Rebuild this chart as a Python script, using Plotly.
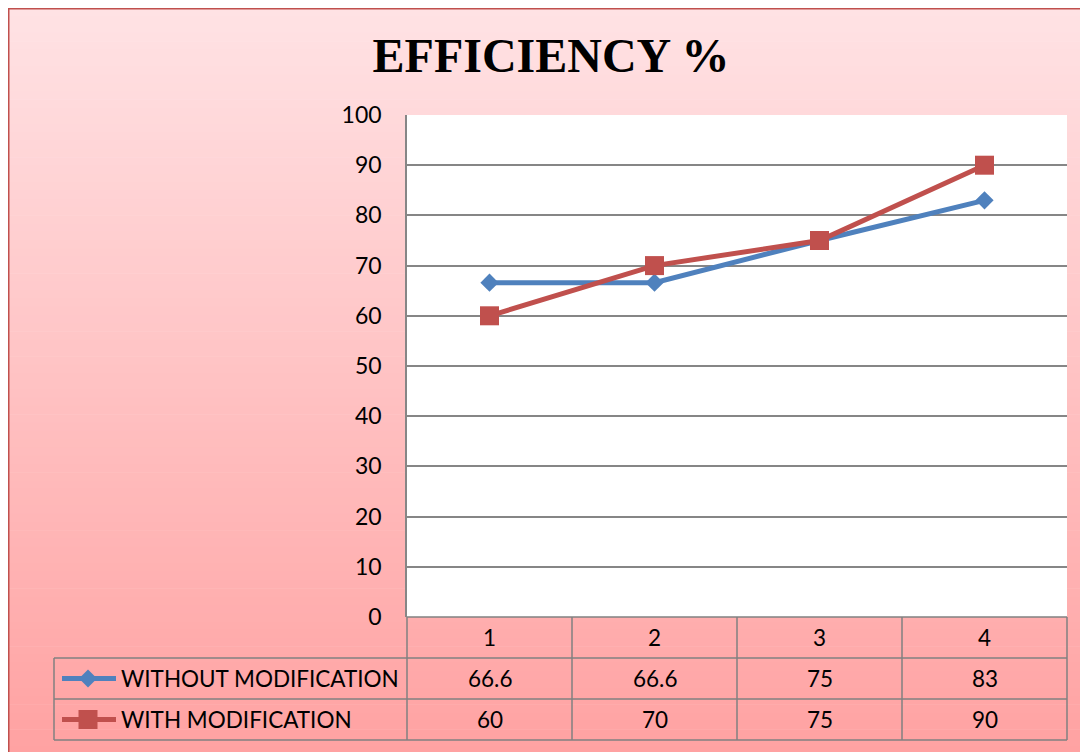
import plotly.graph_objects as go

# ---- data ----
categories = [1, 2, 3, 4]
series_names = ["WITHOUT MODIFICATION", "WITH MODIFICATION"]
without_mod = [66.6, 66.6, 75, 83]
with_mod = [60, 70, 75, 90]
y_ticks = [0, 10, 20, 30, 40, 50, 60, 70, 80, 90, 100]
title_text = "EFFICIENCY %"

BLUE = "#4f81bd"
RED = "#c0504d"
GRID = "#868686"
OFF = 8                      # page body margin
WIN_W, WIN_H = 1088, 752
W, H = WIN_W - OFF, WIN_H - OFF
PL, PR, PT, PB = 407, 1067, 115, 617  # plot area in window px

def fx(px):
    return (px - PL) / (PR - PL)

def fy(py):
    return (PB - py) / (PB - PT)

fig = go.Figure()
fig.add_trace(go.Scatter(x=categories, y=without_mod, mode="lines+markers",
                         name=series_names[0],
                         line=dict(color=BLUE, width=5),
                         marker=dict(symbol="diamond", size=14, color=BLUE)))
fig.add_trace(go.Scatter(x=categories, y=with_mod, mode="lines+markers",
                         name=series_names[1],
                         line=dict(color=RED, width=5),
                         marker=dict(symbol="square", size=19, color=RED)))

shapes = []
# gradient background
N = 90
top_c = (255, 226, 228)
bot_c = (255, 162, 162)
y0, y1 = OFF, WIN_H + 2
for i in range(N):
    t = i / (N - 1)
    c = tuple(round(top_c[k] + (bot_c[k] - top_c[k]) * t) for k in range(3))
    ya = y0 + (y1 - y0) * i / N
    yb = y0 + (y1 - y0) * (i + 1) / N + 0.6
    shapes.append(dict(type="rect", xref="paper", yref="paper", layer="below",
                       x0=fx(OFF), x1=fx(WIN_W + 5), y0=fy(ya), y1=fy(yb),
                       fillcolor="rgb(%d,%d,%d)" % c, line=dict(width=0)))
# white plot area
shapes.append(dict(type="rect", xref="paper", yref="paper", layer="below",
                   x0=0, x1=1, y0=0, y1=1, fillcolor="white", line=dict(width=0)))
# chart border
shapes.append(dict(type="line", xref="paper", yref="paper", x0=fx(OFF), x1=fx(WIN_W + 5),
                   y0=fy(OFF + 0.5), y1=fy(OFF + 0.5), line=dict(color="#c0504d", width=2)))
shapes.append(dict(type="line", xref="paper", yref="paper", x0=fx(OFF + 0.5), x1=fx(OFF + 0.5),
                   y0=fy(OFF), y1=fy(WIN_H + 5), line=dict(color="#c0504d", width=2)))

# data table grid
tcol = [407, 572, 737, 902, 1067]
trow = [617, 658, 699, 740]
LBL_X = 54
tl = dict(color="#808080", width=1.5)
shapes.append(dict(type="line", xref="paper", yref="paper", x0=fx(PL), x1=fx(PR),
                   y0=fy(trow[0]), y1=fy(trow[0]), line=tl))
for r in trow[1:]:
    shapes.append(dict(type="line", xref="paper", yref="paper", x0=fx(LBL_X), x1=fx(PR),
                       y0=fy(r), y1=fy(r), line=tl))
for c in tcol:
    shapes.append(dict(type="line", xref="paper", yref="paper", x0=fx(c), x1=fx(c),
                       y0=fy(trow[0]), y1=fy(trow[-1]), line=tl))
shapes.append(dict(type="line", xref="paper", yref="paper", x0=fx(LBL_X), x1=fx(LBL_X),
                   y0=fy(trow[1]), y1=fy(trow[-1]), line=tl))

# legend keys in table
key_colors = [BLUE, RED]
for i, col in enumerate(key_colors):
    cy = (trow[i + 1] + trow[i + 2]) / 2
    shapes.append(dict(type="line", xref="paper", yref="paper", x0=fx(62), x1=fx(116),
                       y0=fy(cy), y1=fy(cy), line=dict(color=col, width=5)))
    if i == 0:
        d = 9
        path = "M %f %f L %f %f L %f %f L %f %f Z" % (
            fx(88 - d), fy(cy), fx(88), fy(cy - d), fx(88 + d), fy(cy), fx(88), fy(cy + d))
        shapes.append(dict(type="path", xref="paper", yref="paper", path=path,
                           fillcolor=col, line=dict(width=0)))
    else:
        d = 9.5
        shapes.append(dict(type="rect", xref="paper", yref="paper",
                           x0=fx(88 - d), x1=fx(88 + d), y0=fy(cy - d), y1=fy(cy + d),
                           fillcolor=col, line=dict(width=0)))

FONT = "Lato"
FS = 22.5
annotations = []
centers = [(tcol[i] + tcol[i + 1]) / 2 for i in range(4)]
for i, cat in enumerate(categories):
    annotations.append(dict(x=fx(centers[i]), y=fy((trow[0] + trow[1]) / 2), xref="paper", yref="paper",
                            text=str(cat), showarrow=False, xanchor="center", yanchor="middle",
                            font=dict(family=FONT, size=FS, color="black")))
for r, vals in enumerate([without_mod, with_mod]):
    cy = (trow[r + 1] + trow[r + 2]) / 2
    annotations.append(dict(x=fx(119), y=fy(cy), xref="paper", yref="paper",
                            text=series_names[r], showarrow=False, xanchor="left", yanchor="middle",
                            font=dict(family=FONT, size=FS, color="black")))
    for i, v in enumerate(vals):
        annotations.append(dict(x=fx(centers[i]), y=fy(cy), xref="paper", yref="paper",
                                text=f"{v:g}", showarrow=False, xanchor="center", yanchor="middle",
                                font=dict(family=FONT, size=FS, color="black")))

fig.update_layout(
    width=W, height=H,
    margin=dict(l=PL - OFF, r=WIN_W - PR, t=PT - OFF, b=WIN_H - PB, pad=0),
    paper_bgcolor="white",
    plot_bgcolor="rgba(0,0,0,0)",
    showlegend=False,
    title=dict(text="<b>" + title_text + "</b>", xref="container", yref="container",
               x=(551 - OFF) / W, y=1 - (55 - OFF) / H, xanchor="center", yanchor="middle",
               font=dict(family="Liberation Serif", size=48, color="black")),
    shapes=shapes,
    annotations=annotations,
    xaxis=dict(range=[0.5, 4.5], showticklabels=False, showgrid=False, zeroline=False,
               showline=False, ticks=""),
    yaxis=dict(range=[0, 100], tickvals=y_ticks, showgrid=True, gridcolor=GRID, gridwidth=1.5,
               zeroline=False, showline=True, linecolor=GRID, linewidth=1.5, ticks="",
               ticklabelstandoff=19,
               tickfont=dict(family=FONT, size=23, color="black")),
)

fig.write_html("out.html")
